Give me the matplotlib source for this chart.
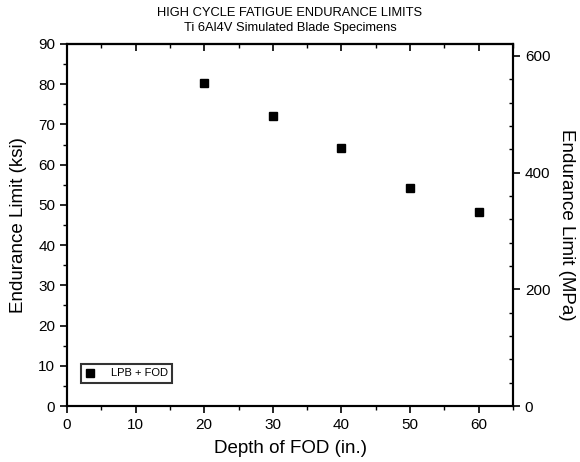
import matplotlib
matplotlib.use("Agg")
import matplotlib.pyplot as plt
from matplotlib.ticker import MultipleLocator
import numpy as np

plt.rcParams['font.family'] = ['Liberation Sans', 'DejaVu Sans']

# data
depth_in = [20, 30, 40, 50, 60]
endurance_ksi = [80.2, 72.1, 64.2, 54.3, 48.3]
series_label = "LPB + FOD"
KSI_TO_MPA = 6.894757

fig = plt.figure(figsize=(5.8, 4.62), dpi=100)
ax = fig.add_axes([0.1155, 0.1212, 0.7690, 0.7836])

ax.plot(depth_in, endurance_ksi, ls='none', marker='s', ms=6, color='black',
        label=series_label)

ax.set_xlim(0, 65)
ax.set_ylim(0, 90)
ax.xaxis.set_major_locator(MultipleLocator(10))
ax.xaxis.set_minor_locator(MultipleLocator(5))
ax.yaxis.set_major_locator(MultipleLocator(10))
ax.yaxis.set_minor_locator(MultipleLocator(5))
ax.tick_params(which='major', direction='out', length=5, width=1.2, labelsize=11)
ax.tick_params(which='minor', direction='out', length=3, width=1.0)
for s in ax.spines.values():
    s.set_linewidth(1.5)

# top ticks pointing inward, no labels
top = ax.secondary_xaxis('top')
top.xaxis.set_major_locator(MultipleLocator(10))
top.xaxis.set_minor_locator(MultipleLocator(5))
top.tick_params(which='major', direction='in', length=5, width=1.2, labeltop=False)
top.tick_params(which='minor', direction='in', length=3, width=1.0)
top.spines['top'].set_linewidth(1.5)

# right axis in MPa
ax2 = ax.twinx()
ax2.set_ylim(0, 90 * KSI_TO_MPA)
ax2.yaxis.set_major_locator(MultipleLocator(200))
ax2.yaxis.set_minor_locator(MultipleLocator(40))
ax2.tick_params(which='major', direction='out', length=5, width=1.2, labelsize=11)
ax2.tick_params(which='minor', direction='in', length=3, width=1.0)
for s in ax2.spines.values():
    s.set_linewidth(1.5)
ax2.set_ylabel("Endurance Limit (MPa)", fontsize=13.5, rotation=270, labelpad=18)

ax.set_xlabel("Depth of FOD (in.)", fontsize=13.5, labelpad=6)
ax.set_ylabel("Endurance Limit (ksi)", fontsize=13.5, labelpad=8)
fig.text(0.5, 0.985, "HIGH CYCLE FATIGUE ENDURANCE LIMITS\nTi 6Al4V Simulated Blade Specimens",
         ha='center', va='top', fontsize=9.3, linespacing=1.35)

leg = ax.legend(loc='lower left', bbox_to_anchor=(0.031, 0.064), fontsize=8,
                frameon=True, fancybox=False, edgecolor='black', handlelength=0.8,
                handletextpad=1.5, borderpad=0.4, borderaxespad=0, markerscale=0.9)
leg.get_frame().set_linewidth(1.5)

fig.savefig("out.png", dpi=100)
